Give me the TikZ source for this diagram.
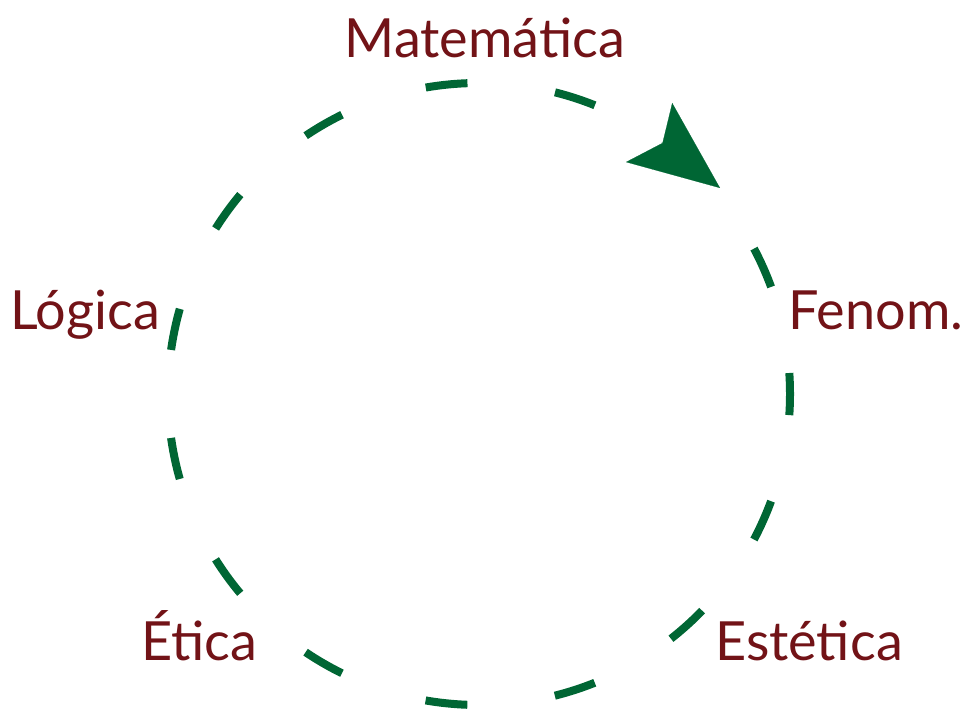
\documentclass[tikz,border=0pt]{standalone}
\usepackage{fontspec}
\setmainfont{Lato}
\usetikzlibrary{arrows.meta}

\definecolor{topicred}{RGB}{114,19,23}
\definecolor{ringgreen}{RGB}{0,102,52}

\begin{document}
\begin{tikzpicture}[
                x=0.5pt, y=0.5pt,
                ring/.style={draw=ringgreen, circle, line width=4pt, minimum size=311pt, inner sep=0pt,
                             dash pattern=on 21pt off 44.14pt, dash phase=10.5pt},
                topic/.style={text=topicred, anchor=base, inner sep=0pt, font=\fontsize{27}{32}\selectfont},
                flow/.style={ringgreen, line width=0.1pt, -{Stealth[length=45pt, width=37.5pt, inset=8.5pt]}}
            ]
                \useasboundingbox (0,0) rectangle (968,711);

                \node[ring] (cycle) at (479,317) {};

                \node[topic] (mat) at (485,653) {Matemática};
                \node[topic] (fen) at (876,381) {Fenom.};
                \node[topic] (est) at (809,50) {Estética};
                \node[topic] (eti) at (199,50) {Ética};
                \node[topic] (log) at (85,381) {Lógica};

                \coordinate (back) at (661.7,568.6);
                \coordinate (tip) at (720,523);
                \draw[flow] (back) -- (tip);
            \end{tikzpicture}
\end{document}
